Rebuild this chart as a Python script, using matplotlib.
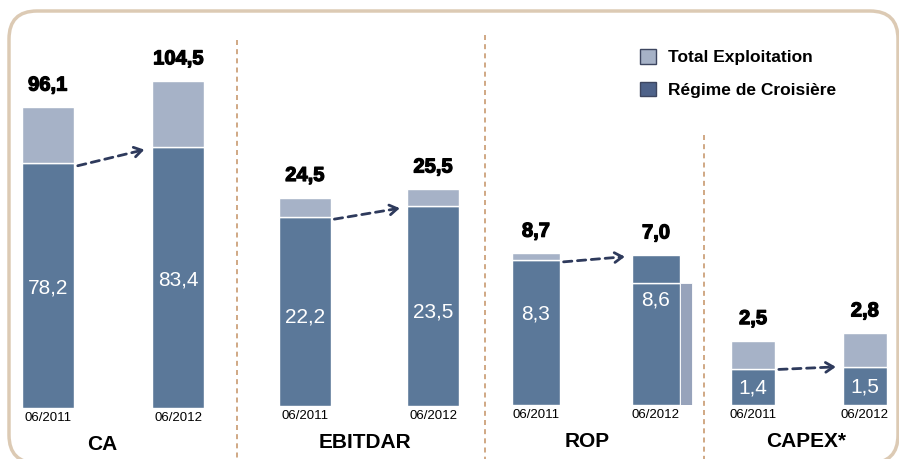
import matplotlib.pyplot as plt
import matplotlib.patheffects as pe
from matplotlib.patches import FancyBboxPatch, Patch
from matplotlib.lines import Line2D
from matplotlib.transforms import IdentityTransform

plt.rcParams['font.family'] = ['Liberation Sans', 'DejaVu Sans']

# data
groups = ['CA', 'EBITDAR', 'ROP', 'CAPEX*']
periods = ['06/2011', '06/2012']
regime = [[78.2, 83.4], [22.2, 23.5], [8.3, 8.6], [1.4, 1.5]]
total = [[96.1, 104.5], [24.5, 25.5], [8.7, 7.0], [2.5, 2.8]]
legend_labels = ['Total Exploitation', 'Régime de Croisière']

# layout (pixels of the 899x459 picture)
W, H = 899, 459
panels = [(2, 224, 408), (260, 478, 406), (494, 698, 405), (714, 904, 405)]
ymax = [124, 45.4, 22.1, 15.0]
inner_frac = [(0.49, 0.49), (0.47, 0.47), (0.63, 0.70), (0.47, 0.47)]
name_x = [0.42, 0.47, 0.43, 0.47]

dark = '#5b7899'
light = '#a6b2c7'
light2 = '#97a3bb'
navy = '#2e3a5c'

fmt = lambda v: f'{v:.1f}'.replace('.', ',')
heavy = [pe.withStroke(linewidth=0.9, foreground='black')]

fig = plt.figure(figsize=(W / 100, H / 100), dpi=100)

for i, g in enumerate(groups):
    L, R, B = panels[i]
    ax = fig.add_axes([L / W, 1 - B / H, (R - L) / W, (B - 20) / H])
    ax.set_xlim(-0.35, 1.35)
    ax.set_ylim(0, ymax[i])
    ax.axis('off')
    for j in range(2):
        r, t = regime[i][j], total[i][j]
        if t >= r:
            ax.bar(j, r, 0.4, color=dark, edgecolor='white', linewidth=1)
            ax.bar(j, t - r, 0.4, bottom=r, color=light, edgecolor='white', linewidth=1)
        else:
            ax.bar(j, t, 0.4, color=dark, edgecolor='white', linewidth=1)
            ax.bar(j, r - t, 0.4, bottom=t, color=dark, edgecolor='white', linewidth=1)
            ax.bar(j + 0.25, t, 0.1, color=light2, edgecolor='white', linewidth=0.6)
        top = max(r, t)
        ax.annotate(fmt(t), (j, top), xytext=(0, 16), textcoords='offset points',
                    ha='center', va='center', fontsize=14.5, fontweight='bold',
                    path_effects=heavy)
        ax.text(j, r * inner_frac[i][j], fmt(r), color='white', fontsize=15,
                ha='center', va='center')
        ax.annotate(periods[j], (j, 0), xytext=(0, -7.5), textcoords='offset points',
                    ha='center', va='center', fontsize=9.5)
    # dashed arrow between the two bars
    x0, y0 = 0.23, regime[i][0] * 0.99
    x1, y1 = 0.74, regime[i][1] * 0.99
    ax.annotate('', xy=(x1, y1), xytext=(x0, y0),
                arrowprops=dict(arrowstyle='-', color=navy, lw=2, linestyle=(0, (3, 2)),
                                shrinkA=0, shrinkB=2))
    ax.annotate('', xy=(x1, y1), xytext=(x1 - 0.08 * (x1 - x0), y1 - 0.08 * (y1 - y0)),
                arrowprops=dict(arrowstyle='->,head_length=0.55,head_width=0.35', color=navy,
                                lw=2, shrinkA=0, shrinkB=0))
    ax.annotate(g, (name_x[i], 0), xytext=(0, -26), textcoords='offset points',
                ha='center', va='center', fontsize=15, fontweight='bold')

# dotted separators
for xs, ys in [(237, 40), (485, 35), (704, 135)]:
    fig.add_artist(Line2D([xs / W, xs / W], [1 - ys / H, 0], transform=fig.transFigure,
                          color='#c89a70', lw=1.2, ls=(0, (3, 2.5))))

# rounded frame
fig.add_artist(FancyBboxPatch((9, -4), 889, 452, boxstyle='round,pad=0,rounding_size=28',
                              transform=IdentityTransform(), fc='none', ec='#dccab4', lw=2.5))

handles = [Patch(fc=light, ec='#3d4660', lw=1), Patch(fc='#4e6289', ec='#3d4660', lw=1)]
fig.legend(handles, legend_labels, loc='upper left', bbox_to_anchor=(628 / W, 1 - 37 / H),
           frameon=False, prop=dict(weight='bold', size=12.5), handlelength=0.9,
           handleheight=0.9, handletextpad=0.7, labelspacing=0.95, borderpad=0.2)

fig.savefig('out.png', dpi=100)
